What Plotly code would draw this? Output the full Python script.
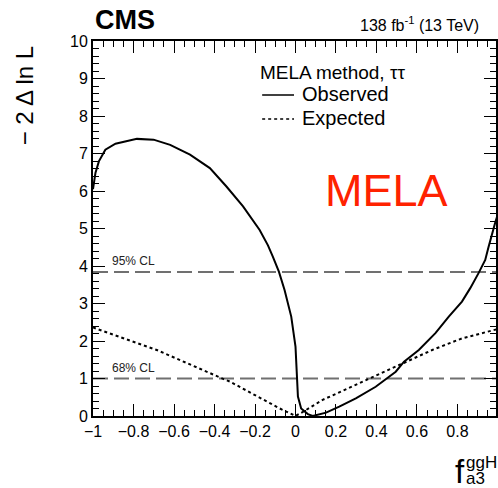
import plotly.graph_objects as go

# ---- data ----
obs_x = [-1.0, -0.988, -0.971, -0.939, -0.889, -0.783, -0.701, -0.619, -0.521, -0.423,
         -0.341, -0.259, -0.177, -0.136, -0.112, -0.082, -0.054, -0.021, 0.0, 0.007,
         0.012, 0.028, 0.061, 0.085, 0.151, 0.216, 0.298, 0.396, 0.495, 0.536,
         0.609, 0.691, 0.757, 0.822, 0.863, 0.904, 0.937, 0.953, 0.970, 0.986, 1.0]
obs_y = [6.05, 6.48, 6.79, 7.10, 7.26, 7.39, 7.37, 7.23, 6.97, 6.61,
         6.12, 5.59, 4.96, 4.55, 4.25, 3.85, 3.36, 2.65, 1.85, 0.96,
         0.52, 0.20, 0.05, 0.0, 0.09, 0.25, 0.47, 0.78, 1.18, 1.45,
         1.76, 2.21, 2.65, 3.05, 3.41, 3.81, 4.16, 4.50, 4.80, 5.15, 5.40]

exp_x = [-1.0, -0.685, -0.357, -0.325, -0.163, -0.081, 0.0, 0.04, 0.134, 0.347,
         0.511, 0.675, 0.822, 0.988, 1.0]
exp_y = [2.36, 1.76, 0.99, 0.92, 0.45, 0.21, 0.0, 0.12, 0.43, 0.96,
         1.36, 1.76, 2.07, 2.30, 2.32]

cl_levels = [1.0, 3.84]
cl_labels = ["68% CL", "95% CL"]

series_names = ["Observed", "Expected"]
series_dash = ["solid", "dot"]

x_tickvals = [-1, -0.8, -0.6, -0.4, -0.2, 0, 0.2, 0.4, 0.6, 0.8, 1]
x_ticktext = ["\u22121", "\u22120.8", "\u22120.6", "\u22120.4", "\u22120.2", "0", "0.2", "0.4", "0.6", "0.8", "1"]
y_tickvals = [0, 1, 2, 3, 4, 5, 6, 7, 8, 9, 10]

# ---- layout geometry ----
W, H = 498, 488
L_M, R_M, T_M, B_M = 93, 0, 41, 72
PW = W - L_M - R_M
PH = H - T_M - B_M
px_per_unit = 203.5
x_max = -1 + PW / px_per_unit


def px(xp):
    return (xp - L_M) / PW


def py(yp):
    return (H - B_M - yp) / PH


FONT = "Liberation Sans, Arial, Helvetica, sans-serif"

fig = go.Figure()
for xs, ys, nm, ds in zip([obs_x, exp_x], [obs_y, exp_y], series_names, series_dash):
    fig.add_trace(go.Scatter(x=xs, y=ys, mode="lines", name=nm,
                             line=dict(color="black", width=2, dash=ds)))

for lvl, lab in zip(cl_levels, cl_labels):
    fig.add_shape(type="line", xref="paper", yref="y", x0=0, x1=1, y0=lvl, y1=lvl,
                  line=dict(color="#707070", width=2, dash="15px,6px"), layer="below")
    fig.add_annotation(xref="x", yref="y", x=-0.915, y=lvl, text=lab, showarrow=False,
                       xanchor="left", yanchor="bottom", yshift=2,
                       font=dict(family=FONT, size=12, color="#222"))

# manual legend (ROOT style)
fig.add_annotation(xref="paper", yref="paper", x=px(259), y=py(72), text="MELA method, \u03c4\u03c4",
                   showarrow=False, xanchor="left", yanchor="middle",
                   font=dict(family=FONT, size=19, color="black"))
for i, (nm, ds) in enumerate(zip(series_names, series_dash)):
    yc = [94, 118][i]
    fig.add_shape(type="line", xref="paper", yref="paper", x0=px(263), x1=px(295),
                  y0=py(yc + 1), y1=py(yc + 1), line=dict(color="black", width=1.5, dash=ds))
    fig.add_annotation(xref="paper", yref="paper", x=px(301), y=py(yc), text=nm,
                       showarrow=False, xanchor="left", yanchor="middle",
                       font=dict(family=FONT, size=20, color="black"))

# texts
fig.add_annotation(xref="paper", yref="paper", x=px(93), y=py(19.5), text="<b>CMS</b>",
                   showarrow=False, xanchor="left", yanchor="middle",
                   font=dict(family=FONT, size=27, color="black"))
fig.add_annotation(xref="paper", yref="paper", x=px(359), y=py(24), text="138 fb<sup>-1</sup> (13 TeV)",
                   showarrow=False, xanchor="left", yanchor="middle",
                   font=dict(family=FONT, size=16, color="black"))
fig.add_annotation(xref="paper", yref="paper", x=px(25), y=py(96), text="\u2212 2 \u0394 ln L",
                   showarrow=False, xanchor="center", yanchor="middle", textangle=-90,
                   font=dict(family=FONT, size=24, color="black"))
fig.add_annotation(xref="paper", yref="paper", x=px(388), y=py(190), text="MELA",
                   showarrow=False, xanchor="center", yanchor="middle",
                   font=dict(family=FONT, size=45, color="#ff2200"))
# x title pieces
fig.add_annotation(xref="paper", yref="paper", x=px(455), y=py(471), text="f",
                   showarrow=False, xanchor="left", yanchor="middle",
                   font=dict(family=FONT, size=33, color="black"))
fig.add_annotation(xref="paper", yref="paper", x=px(466), y=py(462), text="ggH",
                   showarrow=False, xanchor="left", yanchor="middle",
                   font=dict(family=FONT, size=17, color="black"))
fig.add_annotation(xref="paper", yref="paper", x=px(466), y=py(478), text="a3",
                   showarrow=False, xanchor="left", yanchor="middle",
                   font=dict(family=FONT, size=17, color="black"))

axis_common = dict(showline=True, linewidth=2, linecolor="black", mirror="allticks",
                   ticks="inside", ticklen=12, tickwidth=1, tickcolor="black",
                   showgrid=False, zeroline=False,
                   tickfont=dict(family=FONT, size=16, color="black"))

fig.update_xaxes(range=[-1, x_max], tickmode="array", tickvals=x_tickvals, ticktext=x_ticktext,
                 minor=dict(ticks="inside", ticklen=6, dtick=0.05, tick0=-1, tickcolor="black", showgrid=False),
                 **axis_common)
fig.update_yaxes(range=[0, 10], tickmode="array", tickvals=y_tickvals,
                 minor=dict(ticks="inside", ticklen=6, dtick=0.2, tick0=0, tickcolor="black", showgrid=False),
                 **axis_common)

fig.update_layout(
    width=W, height=H,
    margin=dict(l=L_M, r=R_M, t=T_M, b=B_M, pad=0),
    paper_bgcolor="white", plot_bgcolor="white",
    showlegend=False,
)

fig.write_html("out.html", config={"displayModeBar": False},
               post_script="document.body.style.margin='0px';document.body.style.overflow='hidden';")
